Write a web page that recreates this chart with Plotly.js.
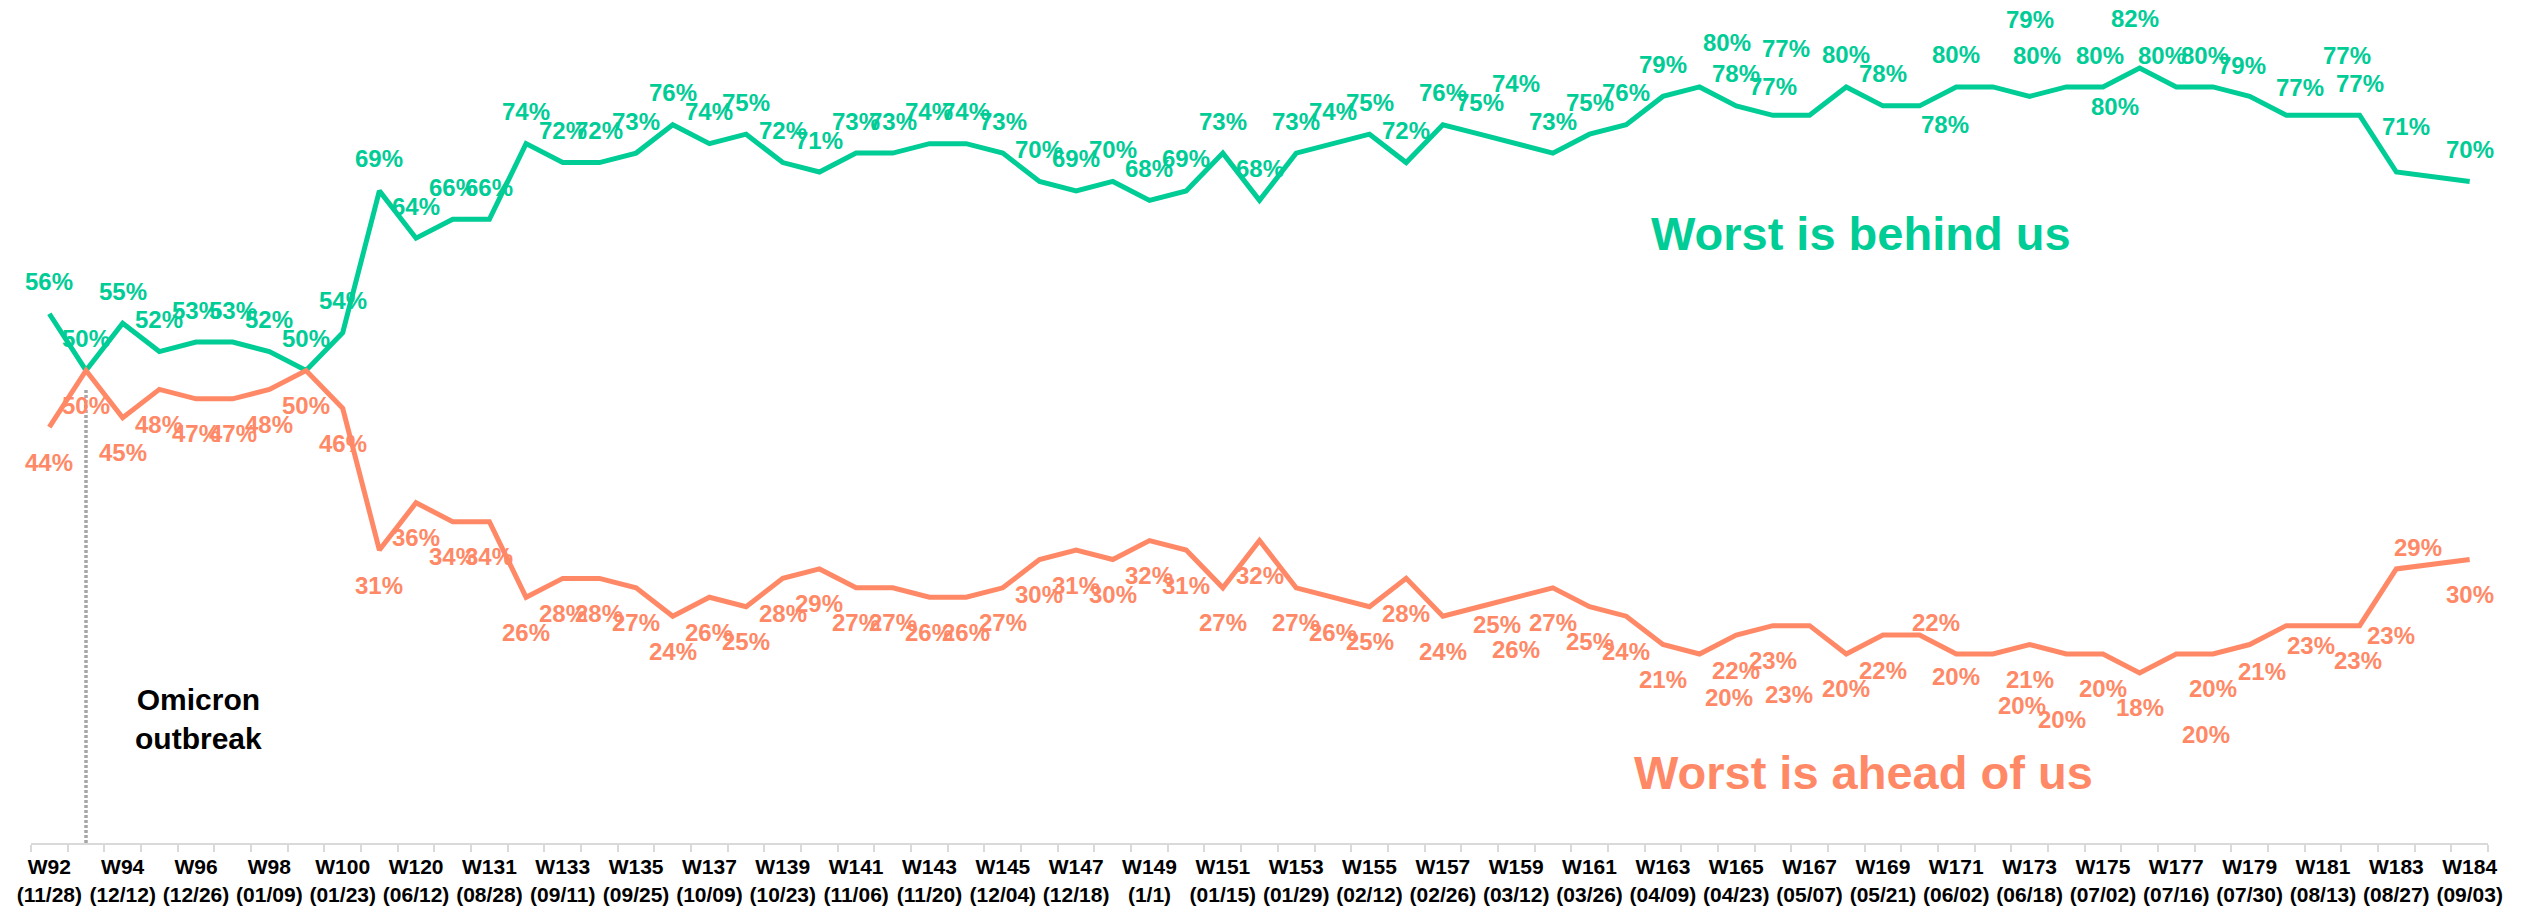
<!DOCTYPE html>
<html>
<head>
<meta charset="utf-8">
<script src="https://cdn.plot.ly/plotly-3.0.1.min.js"></script>
<style>
  html, body { margin: 0; padding: 0; background: #ffffff; }
  #chart { width: 2529px; height: 911px; }
</style>
</head>
<body>
<div id="chart"></div>
<script>
// ---------- DATA ----------
// Survey waves (one per category slot; slot after W183 is empty in the source)
const weeks = [
  "W92","W93","W94","W95","W96","W97","W98","W99","W100","W110",
  "W120","W125","W131","W132","W133","W134","W135","W136","W137","W138",
  "W139","W140","W141","W142","W143","W144","W145","W146","W147","W148",
  "W149","W150","W151","W152","W153","W154","W155","W156","W157","W158",
  "W159","W160","W161","W162","W163","W164","W165","W166","W167","W168",
  "W169","W170","W171","W172","W173","W174","W175","W176","W177","W178",
  "W179","W180","W181","W182","W183","(gap)","W184"
];
// Dates shown under the labelled waves ("" = no label)
const dates = [
  "11/28","","12/12","","12/26","","01/09","","01/23","",
  "06/12","","08/28","","09/11","","09/25","","10/09","",
  "10/23","","11/06","","11/20","","12/04","","12/18","",
  "1/1","","01/15","","01/29","","02/12","","02/26","",
  "03/12","","03/26","","04/09","","04/23","","05/07","",
  "05/21","","06/02","","06/18","","07/02","","07/16","",
  "07/30","","08/13","","08/27","","09/03"
];
// "Worst is behind us" (%)
const behindUs = [
  56,50,55,52,53,53,52,50,54,69,
  64,66,66,74,72,72,73,76,74,75,
  72,71,73,73,74,74,73,70,69,70,
  68,69,73,68,73,74,75,72,76,75,
  74,73,75,76,79,80,78,77,77,80,
  78,78,80,80,79,80,80,82,80,80,
  79,77,77,77,71,null,70
];
// "Worst is ahead of us" (%)
const aheadOfUs = [
  44,50,45,48,47,47,48,50,46,31,
  36,34,34,26,28,28,27,24,26,25,
  28,29,27,27,26,26,27,30,31,30,
  32,31,27,32,27,26,25,28,24,25,
  26,27,25,24,21,20,22,23,23,20,
  22,22,20,20,21,20,20,18,20,20,
  21,23,23,23,29,null,30
];
const omicronIndex = 1;

// ---------- STYLE ----------
const GREEN = "#00CC96";
const ORANGE = "#FF8966";
const FONT = "Liberation Sans, Arial, sans-serif";

// label pixel offsets [dx, dy(down)] — defaults and per-point overrides
const greenDefault = [0, -32];
const orangeDefault = [0, 35];
const greenOffsets = {
  40:[0,-60], 45:[27,-44], 47:[0,-29], 48:[-24,-67], 51:[25,19], 53:[44,-31],
  54:[0,-77], 55:[34,-31], 56:[12,20], 57:[-5,-50], 58:[-14,-31], 59:[-8,-31],
  60:[-8,-31], 61:[14,-28], 62:[24,-60], 64:[10,-46]
};
const orangeOffsets = {
  39:[17,18], 40:[0,52], 45:[29,44], 48:[-21,69], 51:[16,-13], 52:[0,23],
  53:[29,52], 55:[-4,66], 58:[30,81], 60:[12,27], 61:[25,20], 62:[35,35],
  63:[31,10], 64:[22,-21]
};

const tickText = weeks.map((w, i) => dates[i] ? (w + "<br>(" + dates[i] + ")") : "");

const traces = [
  {
    type: "scatter", mode: "lines", name: "Worst is behind us",
    x: weeks, y: behindUs, connectgaps: true,
    line: { color: GREEN, width: 5 }, hoverinfo: "skip"
  },
  {
    type: "scatter", mode: "lines", name: "Worst is ahead of us",
    x: weeks, y: aheadOfUs, connectgaps: true,
    line: { color: ORANGE, width: 5 }, hoverinfo: "skip"
  }
];

const annotations = [];
function addLabels(vals, color, def, overrides) {
  vals.forEach((v, i) => {
    if (v === null) return;
    const off = overrides[i] || def;
    annotations.push({
      x: weeks[i], y: v, xref: "x", yref: "y",
      text: v + "%", showarrow: false,
      xshift: off[0], yshift: -off[1],
      xanchor: "center", yanchor: "middle",
      font: { family: FONT, size: 24, color: color, weight: "bold" }
    });
  });
}
addLabels(behindUs, GREEN, greenDefault, greenOffsets);
addLabels(aheadOfUs, ORANGE, orangeDefault, orangeOffsets);

annotations.push({
  xref: "paper", yref: "paper", x: 0.068, y: 0.147,
  text: "<b>Omicron<br>outbreak</b>", showarrow: false, align: "center",
  xanchor: "center", yanchor: "middle",
  font: { family: FONT, size: 30, color: "#000000" }
});
annotations.push({
  xref: "paper", yref: "paper", x: 0.745, y: 0.723,
  text: "<b>Worst is behind us</b>", showarrow: false,
  xanchor: "center", yanchor: "middle",
  font: { family: FONT, size: 47, color: GREEN }
});
annotations.push({
  xref: "paper", yref: "paper", x: 0.746, y: 0.084,
  text: "<b>Worst is ahead of us</b>", showarrow: false,
  xanchor: "center", yanchor: "middle",
  font: { family: FONT, size: 47, color: ORANGE }
});

const layout = {
  width: 2529, height: 911,
  margin: { l: 31, r: 41, t: 0, b: 68, pad: 0 },
  paper_bgcolor: "#ffffff", plot_bgcolor: "#ffffff",
  showlegend: false,
  xaxis: {
    type: "category", categoryorder: "array", categoryarray: weeks,
    range: [-0.5, weeks.length - 0.5],
    tickmode: "array", tickvals: weeks, ticktext: tickText,
    tickson: "boundaries", ticks: "outside", ticklen: 7, tickwidth: 2,
    tickcolor: "#d9d9d9", tickangle: 0, ticklabelstandoff: 4,
    showline: true, linecolor: "#d9d9d9", linewidth: 2,
    showgrid: false, zeroline: false, automargin: false,
    tickfont: { family: FONT, size: 21, color: "#000000", weight: "bold" }
  },
  yaxis: {
    range: [0, 89.2], visible: false, showgrid: false, zeroline: false,
    fixedrange: true
  },
  shapes: [{
    type: "line", xref: "x", yref: "y",
    x0: weeks[omicronIndex], x1: weeks[omicronIndex],
    y0: 0, y1: behindUs[omicronIndex] - 2,
    line: { color: "#a6a6a6", width: 3.5, dash: "3px,2px" },
    layer: "below"
  }],
  annotations: annotations
};

Plotly.newPlot("chart", traces, layout, { staticPlot: true, displayModeBar: false });
</script>
</body>
</html>
